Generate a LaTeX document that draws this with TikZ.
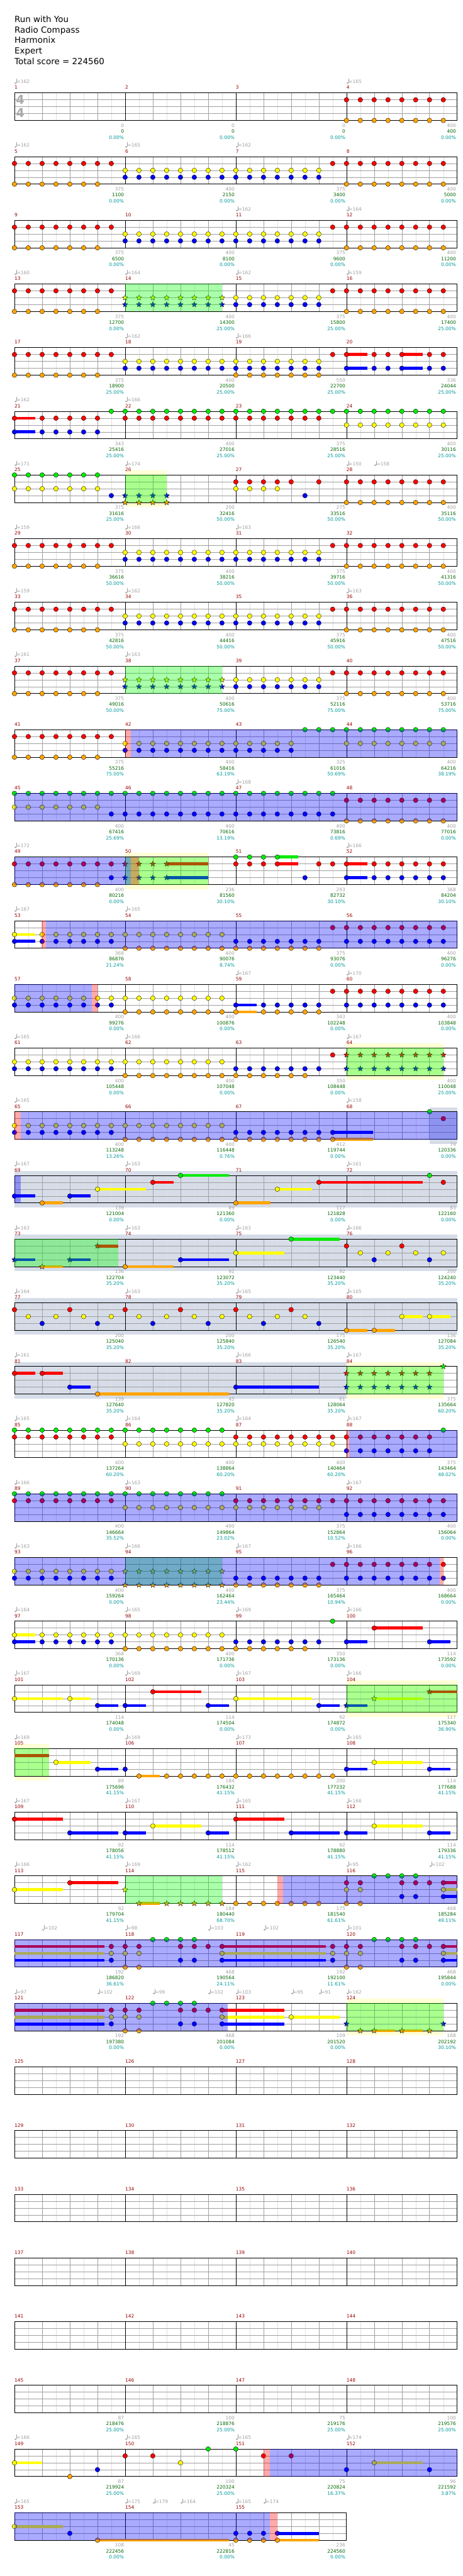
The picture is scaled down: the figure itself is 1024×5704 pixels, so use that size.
\documentclass[tikz,border=0pt]{standalone}
\usepackage{fontspec}
\setmainfont{DejaVu Sans}
\usetikzlibrary{shapes.geometric}
\definecolor{lane0}{RGB}{0,235,0}
\definecolor{lane1}{RGB}{255,0,0}
\definecolor{lane2}{RGB}{255,255,0}
\definecolor{lane3}{RGB}{0,0,255}
\definecolor{lane4}{RGB}{255,165,0}
\definecolor{cMN}{RGB}{153,0,0}
\definecolor{cGr}{RGB}{160,160,160}
\definecolor{cSc}{RGB}{0,102,0}
\definecolor{cPc}{RGB}{0,153,153}
\definecolor{cBand}{RGB}{214,221,232}
\definecolor{cPY}{RGB}{255,255,212}
\definecolor{cLt}{RGB}{224,224,224}
\definecolor{cMd}{RGB}{160,160,160}
\definecolor{cTS}{RGB}{170,170,170}
\newcommand\smallf{\fontsize{10.4}{12}\selectfont}
\tikzset{
 nt/.style={circle,draw=black,line width=0.5pt,inner sep=0pt,minimum size=10.4pt},
 stn/.style={star,star points=5,star point ratio=2.3,draw=black,line width=0.5pt,inner sep=0pt,minimum size=12.5pt},
 lab/.style={anchor=base east,inner sep=0pt,font=\smallf},
 ttl/.style={anchor=base west,inner sep=0pt,font=\fontsize{18.7}{22}\selectfont},
}
\newcommand\Nt[2]{\foreach \p in {#2}{\node[nt,fill=lane#1] at (\p,{#1*15.25}) {};}}
\newcommand\St[2]{\foreach \p in {#2}{\node[stn,fill=lane#1] at (\p,{#1*15.25}) {};}}
\newcommand\Su[3]{\fill[lane#1] (#2,{#1*15.25-3.3}) rectangle (#3,{#1*15.25+3.3});}
\newcommand\Gov[2]{\fill[green,opacity=0.333] (#1,0) rectangle (#2,61);}
\newcommand\Bov[2]{\fill[blue,opacity=0.333] (#1,0) rectangle (#2,61);}
\newcommand\Rov[2]{\fill[red,opacity=0.333] (#1,0) rectangle (#2,61);}
\newcommand\Yreg[2]{\fill[cPY] (#1,-10) rectangle (#2,71);}
\newcommand\Greg[2]{\fill[cBand] (#1,-10) rectangle (#2,71);}
\newcommand\Grid[1]{%
 \pgfmathtruncatemacro\gm{#1-1}%
 \pgfmathtruncatemacro\gend{8*#1}%
 \foreach \i in {0,...,\gm}{\foreach \j in {1,3,5,7}{\draw[cLt,line width=0.6pt] ({8*\i+\j},0)--({8*\i+\j},61);}}
 \foreach \i in {0,...,\gm}{\foreach \j in {2,4,6}{\draw[cMd,line width=0.7pt] ({8*\i+\j},0)--({8*\i+\j},61);}}
 \foreach \l in {1,2,3}{\draw[cMd,line width=0.7pt] (0,{15.25*\l})--(\gend,{15.25*\l});}
 \foreach \i in {1,...,\gm}{\draw[black,line width=0.6pt] ({8*\i},0)--({8*\i},61);}
 \draw[black,line width=1.1pt] (0,0) rectangle (\gend,61);
}
\newcommand\Mns[2]{\foreach \i in {1,...,#2}{\pgfmathtruncatemacro\mm{#1+\i-1}\node[anchor=base west,inner sep=0pt,text=cMN,font=\smallf] at ({8*(\i-1)},-8) {\mm};}}
\newcommand\Tp[2]{%
 \fill[cGr] ({#1+0.075},-21.6) ellipse [x radius=2.2pt,y radius=1.8pt];
 \draw[cGr,line width=0.6pt] ({#1+0.138},-21.8) -- ({#1+0.138},-31.5);
 \node[anchor=base west,inner sep=0pt,text=cGr,font=\smallf] at ({#1+0.16},-21) {=#2};}
\newcommand\Lab[4]{%
 \node[lab,text=cGr] at ({8*#1-0.08},76) {#2};
 \node[lab,text=cSc] at ({8*#1-0.08},89) {#3};
 \node[lab,text=cPc] at ({8*#1-0.08},102.4) {#4\%};}
\newcommand\RowS[1]{\pgfmathsetmacro\rowy{205.7+141*#1}\begin{scope}[xshift=32pt,yshift=-\rowy pt,x=30.625pt]}
\newcommand\RowE{\end{scope}}
\newcommand\PatA{\Nt{1}{0,...,7}\Nt{4}{0,...,6}\Nt{2}{8,...,22}\Nt{3}{8,...,22}\Nt{1}{23,...,31}\Nt{4}{24,...,31}}
\newcommand\PatB{\Nt{1}{0,...,7}\Nt{4}{0,...,6}\St{2}{8,...,15}\St{3}{8,...,15}\Nt{2}{16,...,22}\Nt{3}{16,...,22}\Nt{1}{23,...,31}\Nt{4}{24,...,31}\Gov{8}{15}}
\begin{document}
\begin{tikzpicture}[x=1pt,y=-1pt]
\fill[white] (0,0) rectangle (1024,5704);
\useasboundingbox (0,0) rectangle (1024,5704);
\node[ttl] (t1) at (32,49.3) {Run with You};
\node[ttl] (t2) at (32,72.6) {Radio Compass};
\node[ttl] (t3) at (32,95.9) {Harmonix};
\node[ttl] (t4) at (32,119.2) {Expert};
\node[ttl] (t5) at (32,142.5) {Total score = 224560};
% Row 0
\RowS{0}\Grid{4}
\node[text=cTS,font=\fontsize{27}{27}\selectfont\bfseries,inner sep=0pt] at (0.41,14.6) {4};
\node[text=cTS,font=\fontsize{27}{27}\selectfont\bfseries,inner sep=0pt] at (0.41,44.6) {4};
\Nt{1}{24,...,31}\Nt{4}{24,...,31}
\Mns{1}{4}\Tp{0}{162}\Tp{24}{165}
\Lab{1}{0}{0}{0.00}\Lab{2}{0}{0}{0.00}\Lab{3}{0}{0}{0.00}\Lab{4}{400}{400}{0.00}
\RowE
% Row 1
\RowS{1}\Grid{4}\PatA
\Mns{5}{4}\Tp{0}{162}\Tp{8}{165}\Tp{16}{162}
\Lab{1}{375}{1100}{0.00}\Lab{2}{400}{2150}{0.00}\Lab{3}{375}{3400}{0.00}\Lab{4}{400}{5000}{0.00}
\RowE
% Row 2
\RowS{2}\Grid{4}\PatA
\Mns{9}{4}\Tp{16}{162}\Tp{24}{164}
\Lab{1}{375}{6500}{0.00}\Lab{2}{400}{8100}{0.00}\Lab{3}{375}{9600}{0.00}\Lab{4}{400}{11200}{0.00}
\RowE
% Row 3
\RowS{3}\Grid{4}\PatB
\Mns{13}{4}\Tp{0}{160}\Tp{8}{164}\Tp{16}{162}\Tp{24}{159}
\Lab{1}{375}{12700}{0.00}\Lab{2}{400}{14300}{25.00}\Lab{3}{375}{15800}{25.00}\Lab{4}{400}{17400}{25.00}
\RowE
% Row 4
\RowS{4}\Grid{4}
\Su{1}{24}{25.5}\Su{1}{28}{29.5}\Su{3}{24}{25.5}\Su{3}{28}{29.5}
\Nt{1}{0,...,7}\Nt{4}{0,...,6}\Nt{2}{8,...,22}\Nt{3}{8,...,22}\Nt{4}{16,...,22}\Nt{1}{23,24,26,27,28,30,31}\Nt{3}{24,26,27,28,30,31}
\Mns{17}{4}\Tp{8}{162}\Tp{16}{166}
\Lab{1}{375}{18900}{25.00}\Lab{2}{400}{20500}{25.00}\Lab{3}{550}{22700}{25.00}\Lab{4}{336}{24044}{25.00}
\RowE
% Row 5
\RowS{5}\Grid{4}
\Su{1}{0}{1.5}\Su{3}{0}{1.5}
\Nt{1}{0,2,3,4,5,6}\Nt{3}{0,2,3,4,5,6}\Nt{0}{7,...,31}\Nt{1}{8,...,22}\Nt{2}{24,...,31}
\Mns{21}{4}\Tp{0}{162}\Tp{8}{166}
\Lab{1}{343}{25416}{25.00}\Lab{2}{400}{27016}{25.00}\Lab{3}{375}{28516}{25.00}\Lab{4}{400}{30116}{25.00}
\RowE
% Row 6
\RowS{6}\Yreg{8}{11}\Grid{4}
\Nt{0}{0,...,6}\Nt{2}{0,...,6}\Nt{3}{7}\St{3}{8,...,11}\St{4}{8,...,11}
\Nt{1}{16,17,18,19,20,22}\Nt{2}{16,...,19}\Nt{3}{21}\Nt{1}{24,...,31}\Nt{4}{24,...,31}
\Gov{8}{11}
\Mns{25}{4}\Tp{0}{171}\Tp{8}{174}\Tp{24}{150}\Tp{26}{158}
\Lab{1}{375}{31616}{25.00}\Lab{2}{200}{32416}{50.00}\Lab{3}{275}{33516}{50.00}\Lab{4}{400}{35116}{50.00}
\RowE
% Row 7
\RowS{7}\Grid{4}\PatA
\Mns{29}{4}\Tp{0}{159}\Tp{8}{166}\Tp{16}{163}
\Lab{1}{375}{36616}{50.00}\Lab{2}{400}{38216}{50.00}\Lab{3}{375}{39716}{50.00}\Lab{4}{400}{41316}{50.00}
\RowE
% Row 8
\RowS{8}\Grid{4}\PatA
\Mns{33}{4}\Tp{0}{159}\Tp{8}{162}\Tp{24}{163}
\Lab{1}{375}{42816}{50.00}\Lab{2}{400}{44416}{50.00}\Lab{3}{375}{45916}{50.00}\Lab{4}{400}{47516}{50.00}
\RowE
% Row 9
\RowS{9}\Grid{4}\PatB
\Mns{37}{4}\Tp{0}{161}\Tp{8}{163}
\Lab{1}{375}{49016}{50.00}\Lab{2}{400}{50616}{75.00}\Lab{3}{375}{52116}{75.00}\Lab{4}{400}{53716}{75.00}
\RowE
% Row 10
\RowS{10}\Grid{4}
\Nt{1}{0,...,7}\Nt{4}{0,...,6}\Nt{2}{8,...,20}\Nt{3}{8,...,20}\Nt{0}{21,...,31}\Nt{2}{24,...,31}
\Rov{8}{8.43}\Bov{8.43}{32}
\Mns{41}{4}
\Lab{1}{375}{55216}{75.00}\Lab{2}{400}{58416}{63.19}\Lab{3}{325}{61016}{50.69}\Lab{4}{400}{64216}{38.19}
\RowE
% Row 11
\RowS{11}\Grid{4}
\Nt{0}{0,...,23}\Nt{2}{0,...,6}\Nt{3}{7,...,23}\Nt{1}{24,...,31}\Nt{4}{24,...,31}
\Bov{0}{32}
\Mns{45}{4}\Tp{16}{168}
\Lab{1}{400}{67416}{25.69}\Lab{2}{400}{70616}{13.19}\Lab{3}{400}{73816}{0.69}\Lab{4}{400}{77016}{0.00}
\RowE
% Row 12
\RowS{12}\Yreg{8}{14}\Grid{4}
\Su{1}{11}{14}\Su{3}{11}{14}\Su{0}{19}{20.5}\Su{1}{19}{20.5}\Su{1}{24}{25.5}\Su{3}{24}{25.5}
\Nt{1}{0,...,7}\Nt{4}{0,...,6}\Nt{3}{7}\St{1}{8,...,11}\St{3}{8,...,11}
\Nt{0}{16,...,19}\Nt{1}{16,...,19}\Nt{1}{22,23,24,26,27,28,29,30,31}\Nt{3}{21,24,26,27,28,29,30,31}
\Gov{8}{14}\Bov{0}{8.43}\Rov{8.43}{9}
\Mns{49}{4}\Tp{0}{172}\Tp{24}{166}
\Lab{1}{400}{80216}{0.00}\Lab{2}{236}{81560}{30.10}\Lab{3}{293}{82732}{30.10}\Lab{4}{368}{84204}{30.10}
\RowE
% Row 13
\RowS{13}\Grid{4}
\Su{2}{0}{1.5}\Su{3}{0}{1.5}
\Nt{2}{0,2,3,4,5,6,7,8,9,10,11,12,13,14,15}\Nt{3}{0,2,3,4,5,6,7}\Nt{4}{8,...,22}\Nt{3}{16,...,22}\Nt{1}{23,...,31}\Nt{3}{24,...,31}
\Rov{1.97}{2.28}\Bov{2.28}{32}
\Mns{53}{4}\Tp{0}{167}\Tp{8}{165}
\Lab{1}{368}{86876}{21.24}\Lab{2}{400}{90076}{8.74}\Lab{3}{375}{93076}{0.00}\Lab{4}{400}{96276}{0.00}
\RowE
% Row 14
\RowS{14}\Grid{4}
\Su{4}{16}{17.5}\Su{3}{16}{17.5}
\Nt{2}{0,...,15}\Nt{3}{0,...,7}\Nt{4}{8,...,15}\Nt{4}{16,18,19,20,21,22}\Nt{3}{16,18,19,20,21,22}\Nt{1}{23,...,31}\Nt{3}{24,...,31}
\Bov{0}{5.58}\Rov{5.58}{6}
\Mns{57}{4}\Tp{16}{167}\Tp{24}{170}
\Lab{1}{400}{99276}{0.00}\Lab{2}{400}{100876}{0.00}\Lab{3}{343}{102248}{0.00}\Lab{4}{400}{103848}{0.00}
\RowE
% Row 15
\RowS{15}\Yreg{24}{31}\Grid{4}
\Nt{2}{0,...,15}\Nt{3}{0,...,7}\Nt{4}{8,...,21}\Nt{3}{16,...,22}\Nt{1}{23}\St{1}{24,...,31}\St{3}{24,...,31}
\Gov{24}{31}
\Mns{61}{4}\Tp{0}{165}\Tp{8}{166}\Tp{24}{167}
\Lab{1}{400}{105448}{0.00}\Lab{2}{400}{107048}{0.00}\Lab{3}{350}{108448}{0.00}\Lab{4}{400}{110048}{25.00}
\RowE
% Row 16
\RowS{16}\Greg{30}{32}\Grid{4}
\Su{4}{23}{25.9}\Su{3}{23}{25.9}
\Nt{2}{0,...,15}\Nt{3}{0,...,7}\Nt{4}{8,...,23}\Nt{3}{16,...,23}\Nt{0}{30}\Nt{1}{31}
\Rov{0}{0.44}\Bov{0.44}{32}
\Mns{65}{4}\Tp{0}{165}\Tp{24}{158}
\Lab{1}{400}{113248}{13.26}\Lab{2}{400}{116448}{0.76}\Lab{3}{412}{119744}{0.00}\Lab{4}{74}{120336}{0.00}
\RowE
% Row 17
\RowS{17}\Greg{0}{32}\Grid{4}
\Su{3}{0}{1.5}\Su{4}{2}{3.5}\Su{3}{4}{5.5}\Su{2}{6}{9.5}\Su{1}{10}{11.5}\Su{0}{12}{15.5}\Su{4}{16}{18.5}\Su{2}{19}{21.5}\Su{1}{22}{29.5}
\Nt{3}{0,4}\Nt{4}{2,16}\Nt{2}{6,19}\Nt{1}{10,22,31}\Nt{0}{12,30}
\Bov{0}{0.44}
\Mns{69}{4}\Tp{0}{167}\Tp{8}{163}\Tp{24}{161}
\Lab{1}{139}{121004}{0.00}\Lab{2}{89}{121360}{0.00}\Lab{3}{117}{121828}{0.00}\Lab{4}{83}{122160}{0.00}
\RowE
% Row 18
\RowS{18}\Greg{0}{32}\Grid{4}
\Su{3}{0}{1.5}\Su{4}{2}{3.5}\Su{3}{4}{5.5}\Su{1}{6}{7.5}\Su{4}{8}{11.5}\Su{3}{12}{15.5}\Su{2}{16}{19.5}\Su{0}{20}{23.5}
\St{3}{0,4}\St{4}{2}\St{1}{6}\Nt{4}{8}\Nt{3}{12}\Nt{2}{16}\Nt{0}{20}\Nt{1}{24,28}\Nt{2}{25,27,29,31}\Nt{3}{26,30}
\Gov{0}{7.5}
\Mns{73}{4}\Tp{0}{163}\Tp{8}{163}\Tp{16}{163}\Tp{24}{166}
\Lab{1}{136}{122704}{35.20}\Lab{2}{92}{123072}{35.20}\Lab{3}{92}{123440}{35.20}\Lab{4}{200}{124240}{35.20}
\RowE
% Row 19
\RowS{19}\Greg{0}{32}\Grid{4}
\Su{4}{24}{25.5}\Su{4}{26}{27.5}\Su{2}{28}{29.5}\Su{2}{30}{31.5}
\Nt{1}{0,4,...,20}\Nt{2}{1,3,...,21}\Nt{3}{2,6,...,22}\Nt{4}{24,26}\Nt{2}{28,30}
\Mns{77}{4}\Tp{0}{164}\Tp{8}{163}\Tp{16}{165}\Tp{24}{165}
\Lab{1}{200}{125040}{35.20}\Lab{2}{200}{125840}{35.20}\Lab{3}{175}{126540}{35.20}\Lab{4}{136}{127084}{35.20}
\RowE
% Row 20
\RowS{20}\Greg{0}{24}\Yreg{24}{31}\Grid{4}
\Su{1}{0}{1.5}\Su{1}{2}{3.5}\Su{3}{4}{5.5}\Su{4}{6}{15.5}\Su{3}{16}{22}
\Nt{1}{0,2}\Nt{3}{4,16}\Nt{4}{6}\St{1}{24,...,30}\St{3}{24,...,30}\St{0}{31}
\Gov{24}{31}
\Mns{81}{4}\Tp{0}{161}\Tp{16}{166}\Tp{24}{167}
\Lab{1}{139}{127640}{35.20}\Lab{2}{45}{127820}{35.20}\Lab{3}{61}{128064}{35.20}\Lab{4}{375}{135664}{60.20}
\RowE
% Row 21
\RowS{21}\Grid{4}
\Nt{0}{0,...,15}\Nt{1}{0,...,7}\Nt{2}{8,...,23}\Nt{1}{16,...,30}\Nt{3}{24,...,30}\Nt{0}{31}
\Rov{24}{24.2}\Bov{24.2}{32}
\Mns{85}{4}\Tp{0}{165}\Tp{8}{164}\Tp{16}{164}\Tp{24}{167}
\Lab{1}{400}{137264}{60.20}\Lab{2}{400}{138864}{60.20}\Lab{3}{400}{140464}{60.20}\Lab{4}{375}{143464}{48.02}
\RowE
% Row 22
\RowS{22}\Grid{4}
\Nt{0}{0,...,15}\Nt{1}{0,...,7}\Nt{2}{8,...,22}\Nt{1}{16,...,31}\Nt{3}{24,...,31}
\Bov{0}{32}
\Mns{89}{4}\Tp{0}{166}\Tp{8}{163}\Tp{24}{167}
\Lab{1}{400}{146664}{35.52}\Lab{2}{400}{149864}{23.02}\Lab{3}{375}{152864}{10.52}\Lab{4}{400}{156064}{0.00}
\RowE
% Row 23
\RowS{23}\Grid{4}
\Nt{2}{0,...,7}\Nt{3}{0,...,7}\St{2}{8,...,15}\St{4}{8,...,15}\Nt{3}{16,...,22}\Nt{4}{16,...,22}\Nt{1}{23,...,31}\Nt{3}{24,...,31}
\Gov{8}{15}\Bov{0}{30.76}\Rov{30.76}{31}
\Mns{93}{4}\Tp{0}{163}\Tp{8}{166}\Tp{16}{167}\Tp{24}{166}
\Lab{1}{400}{159264}{0.00}\Lab{2}{400}{162464}{23.44}\Lab{3}{375}{165464}{10.94}\Lab{4}{400}{168664}{0.00}
\RowE
% Row 24
\RowS{24}\Grid{4}
\Su{2}{0}{1.5}\Su{3}{0}{1.5}\Su{3}{24}{25.5}\Su{1}{26}{29.5}\Su{3}{30}{31.5}
\Nt{2}{0,2,3,4,5,6,7,8,9,10,11,12,13,14,15}\Nt{3}{0,2,3,4,5,6,7}\Nt{4}{8,...,21}\Nt{3}{16,...,22}\Nt{0}{23}\Nt{3}{24,30}\Nt{1}{26}
\Mns{97}{4}\Tp{0}{164}\Tp{8}{165}\Tp{16}{169}\Tp{24}{166}
\Lab{1}{368}{170136}{0.00}\Lab{2}{400}{171736}{0.00}\Lab{3}{350}{173136}{0.00}\Lab{4}{114}{173592}{0.00}
\RowE
% Row 25
\RowS{25}\Yreg{24}{32}\Grid{4}
\Su{2}{0}{3.5}\Su{2}{4}{5.5}\Su{3}{6}{7.5}\Su{3}{8}{9.5}\Su{1}{10}{13.5}\Su{3}{14}{15.5}\Su{2}{16}{21.5}\Su{3}{22}{23.5}\Su{3}{24}{25.5}\Su{2}{26}{29.5}\Su{1}{30}{32}
\Nt{2}{0,4,16}\Nt{3}{6,8,14,22}\Nt{1}{10}\St{3}{24}\St{2}{26}\St{1}{30}
\Gov{24}{32}
\Mns{101}{4}\Tp{0}{167}\Tp{8}{169}\Tp{16}{167}\Tp{24}{166}
\Lab{1}{114}{174048}{0.00}\Lab{2}{114}{174504}{0.00}\Lab{3}{92}{174872}{0.00}\Lab{4}{117}{175340}{36.90}
\RowE
% Row 26
\RowS{26}\Yreg{0}{2.48}\Grid{4}
\Su{1}{0}{2.48}\Su{2}{3}{5.5}\Su{3}{6}{7.5}\Su{4}{9}{10.5}\Su{3}{24}{25.5}\Su{2}{26}{29.5}\Su{3}{30}{31.5}
\Nt{2}{3,26}\Nt{3}{6,8,24,30}\Nt{4}{9}\Nt{4}{11,...,23}
\Gov{0}{2.48}
\Mns{105}{4}\Tp{0}{169}\Tp{8}{169}\Tp{16}{173}\Tp{24}{165}
\Lab{1}{89}{175696}{41.15}\Lab{2}{184}{176432}{41.15}\Lab{3}{200}{177232}{41.15}\Lab{4}{114}{177688}{41.15}
\RowE
% Row 27
\RowS{27}\Grid{4}
\Su{1}{0}{3.5}\Su{3}{4}{7.5}\Su{3}{8}{9.5}\Su{2}{10}{13.5}\Su{3}{14}{15.5}\Su{1}{16}{19.5}\Su{3}{20}{23.5}\Su{3}{24}{25.5}\Su{2}{26}{29.5}\Su{3}{30}{31.5}
\Nt{1}{0,16}\Nt{3}{4,8,14,20,24,30}\Nt{2}{10,26}
\Mns{109}{4}\Tp{0}{167}\Tp{8}{167}\Tp{16}{165}\Tp{24}{166}
\Lab{1}{92}{178056}{41.15}\Lab{2}{114}{178512}{41.15}\Lab{3}{92}{178880}{41.15}\Lab{4}{114}{179336}{41.15}
\RowE
% Row 28
\RowS{28}\Grid{4}
\Su{2}{0}{3.5}\Su{1}{4}{7.5}\Su{4}{9}{10.5}\Su{1}{31}{32}\Su{2}{31}{32}\Su{3}{31}{32}
\Nt{2}{0}\Nt{1}{4}\St{2}{8}\St{4}{9,11,12,13,14,15}\Nt{4}{16,...,22}\Nt{4}{24,25}\Nt{1}{24,25}\Nt{2}{24,25}
\Nt{0}{26,...,29}\Nt{1}{28,29,30,31}\Nt{3}{28,29,31}\Nt{2}{31}
\Gov{8}{15}\Rov{19}{19.43}\Bov{19.43}{32}
\Mns{113}{4}\Tp{0}{166}\Tp{8}{169}\Tp{16}{162}\Tp{24}{95}\Tp{30}{102}
\Lab{1}{92}{179704}{41.15}\Lab{2}{184}{180440}{68.70}\Lab{3}{175}{181540}{61.61}\Lab{4}{468}{185284}{49.11}
\RowE
% Row 29
\RowS{29}\Grid{4}
\Su{1}{0}{6.5}\Su{2}{0}{6.5}\Su{3}{0}{6.5}\Su{1}{15}{22.5}\Su{2}{15}{22.5}\Su{3}{15}{22.5}\Su{1}{31}{32}\Su{2}{31}{32}\Su{3}{31}{32}
\Nt{1}{7,8,9,12,13,14,15,23,24,25,28,29,30,31}\Nt{2}{7,8,9,15,23,24,25,31}\Nt{3}{7,12,13,15,23,28,29,31}\Nt{4}{8,9,24,25}\Nt{0}{10,11,12,13,26,27,28,29}
\Bov{0}{32}
\Mns{117}{4}\Tp{2}{102}\Tp{8}{98}\Tp{14}{103}\Tp{18}{102}\Tp{24}{101}
\Lab{1}{192}{186820}{36.61}\Lab{2}{468}{190564}{24.11}\Lab{3}{192}{192100}{11.61}\Lab{4}{468}{195844}{0.00}
\RowE
% Row 30
\RowS{30}\Yreg{24}{31}\Grid{4}
\Su{1}{0}{6.5}\Su{2}{0}{6.5}\Su{3}{0}{6.5}\Su{1}{15}{19.5}\Su{2}{15}{19.5}\Su{3}{15}{19.5}\Su{2}{20}{23.5}\Su{4}{26}{27.5}\Su{4}{28}{29.5}
\Nt{1}{7,8,9,12,13,14,15}\Nt{2}{7,8,9,15,20}\Nt{3}{7,12,13,15}\Nt{4}{8,9}\Nt{0}{10,11,12,13}\St{3}{24,31}\St{4}{25,26,28,30}
\Gov{24}{31}\Bov{0}{15.42}
\Mns{121}{4}\Tp{0}{97}\Tp{6}{102}\Tp{10}{99}\Tp{14}{102}\Tp{16}{103}\Tp{20}{95}\Tp{22}{91}\Tp{24}{162}
\Lab{1}{192}{197380}{0.00}\Lab{2}{468}{201084}{0.00}\Lab{3}{109}{201520}{0.00}\Lab{4}{168}{202192}{30.10}
\RowE
% Rows 31-35
\RowS{31}\Grid{4}\Mns{125}{4}\RowE
\RowS{32}\Grid{4}\Mns{129}{4}\RowE
\RowS{33}\Grid{4}\Mns{133}{4}\RowE
\RowS{34}\Grid{4}\Mns{137}{4}\RowE
\RowS{35}\Grid{4}\Mns{141}{4}\RowE
% Row 36
\RowS{36}\Grid{4}\Mns{145}{4}
\Lab{1}{87}{218476}{25.00}\Lab{2}{100}{218876}{25.00}\Lab{3}{75}{219176}{25.00}\Lab{4}{100}{219576}{25.00}
\RowE
% Row 37
\RowS{37}\Grid{4}
\Su{2}{0}{2}\Su{2}{26}{29.5}
\Nt{2}{0,12,26}\Nt{4}{4}\Nt{3}{6,24,30}\Nt{1}{8,10,18,20}\Nt{0}{14,16}
\Rov{18}{18.45}\Bov{18.45}{32}
\Mns{149}{4}\Tp{0}{166}\Tp{8}{165}\Tp{16}{165}\Tp{24}{174}
\Lab{1}{87}{219924}{25.00}\Lab{2}{100}{220324}{25.00}\Lab{3}{75}{220824}{16.37}\Lab{4}{96}{221592}{3.87}
\RowE
% Row 38
\RowS{38}\Grid{3}
\Su{2}{0}{3.5}\Su{4}{6}{15.5}\Su{3}{19}{22}\Su{4}{19}{22}
\Nt{2}{0}\Nt{3}{4,16,17,18,19}\Nt{4}{6,16,17,18,19}
\Bov{0}{18.45}\Rov{18.45}{19}
\Mns{153}{3}\Tp{0}{165}\Tp{8}{175}\Tp{10}{179}\Tp{12}{164}\Tp{16}{165}\Tp{18}{174}
\Lab{1}{108}{222456}{0.00}\Lab{2}{45}{222816}{0.00}\Lab{3}{236}{224560}{0.00}
\RowE
\end{tikzpicture}
\end{document}
